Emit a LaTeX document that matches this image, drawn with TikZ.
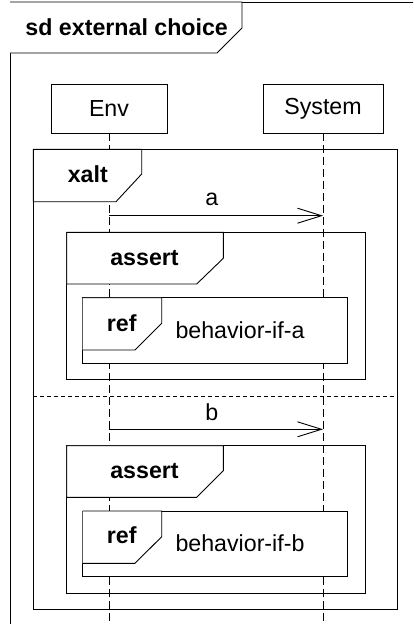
\documentclass[tikz,border=0pt]{standalone}
\usepackage{fontspec}
\setmainfont{Liberation Sans}
\usetikzlibrary{arrows.meta}
\begin{document}
\begin{tikzpicture}[x=1pt,y=-1pt,line width=0.9pt,
  txt/.style={font=\fontsize{23.2}{28}\selectfont,inner sep=0pt,anchor=base},
  kw/.style={font=\fontsize{23.2}{28}\selectfont\bfseries,inner sep=0pt,anchor=base},
  tab/.style={draw,fill=white,line join=miter},
  lifeline/.style={dash pattern=on 8pt off 4pt},
  sep/.style={dash pattern=on 4pt off 3pt},
  msg/.style={-{Straight Barb[length=24pt,width=15pt]}},
  lifebox/.style={draw,fill=white,minimum height=49pt,inner sep=0pt,
    font=\fontsize{23.2}{28}\selectfont}]
\useasboundingbox (0,0) rectangle (413,624);
\begin{scope}
\clip (0,0) rectangle (413,624);
% outer sd frame
\draw (10,2) rectangle (440,660);
% lifeline heads
\node[lifebox,minimum width=116pt] (env) at (109,108.5) {Env};
\node[lifebox,minimum width=120pt] (sys) at (323,108.5) {System};
\coordinate (envend) at (109,630);
\coordinate (sysend) at (323,630);
\draw[lifeline] (env.south) -- (envend);
\draw[lifeline] (sys.south) -- (sysend);
\end{scope}
% title tab
\draw[tab] (10,2) -- (242,2) -- (242,28) -- (217,53) -- (10,53);
\node[kw] (title) at (126.7,35) {sd external choice};
% xalt frame
\draw (33.3,149.3) rectangle (397.7,609.3);
\draw[tab] (33.3,149.3) -- (141.7,149.3) -- (141.7,174) -- (116,201.7) -- (33.3,201.7) -- cycle;
\node[kw] (xalt) at (87.8,182.7) {xalt};
% message a
\coordinate (a1) at (109,215.7);
\coordinate (a2) at (323,215.7);
\draw[msg] (a1) -- (a2);
\node[txt] (la) at (211.7,205) {a};
% assert a
\draw (66.7,232.3) rectangle (365,379.3);
\draw[tab] (66.7,232.3) -- (223.3,232.3) -- (223.3,258.3) -- (196.7,284) -- (66.7,284) -- cycle;
\node[kw] (assa) at (144.5,265) {assert};
% ref a
\draw[fill=white] (82.7,297.7) rectangle (347.3,363.3);
\draw[tab] (82.7,297.7) -- (161.7,297.7) -- (161.7,323.3) -- (135,350) -- (82.7,350);
\node[kw] (refa) at (121.7,331.7) {ref};
\node[txt] (beha) at (240,338.3) {behavior-if-a};
% separator
\coordinate (s1) at (33.3,396);
\coordinate (s2) at (397.7,396);
\draw[sep] (s1) -- (s2);
% message b
\coordinate (b1) at (109,429.3);
\coordinate (b2) at (323,429.3);
\draw[msg] (b1) -- (b2);
\node[txt] (lb) at (211.7,420) {b};
% assert b
\draw (66.7,445.7) rectangle (365,593.3);
\draw[tab] (66.7,445.7) -- (223.3,445.7) -- (223.3,470.7) -- (196.7,497.3) -- (66.7,497.3) -- cycle;
\node[kw] (assb) at (144.5,478.3) {assert};
% ref b
\draw[fill=white] (82.7,511) rectangle (347.3,576.7);
\draw[tab] (82.7,511) -- (161.7,511) -- (161.7,536.7) -- (135,563.3) -- (82.7,563.3);
\node[kw] (refb) at (121.7,543.3) {ref};
\node[txt] (behb) at (240,551.7) {behavior-if-b};
\end{tikzpicture}
\end{document}
